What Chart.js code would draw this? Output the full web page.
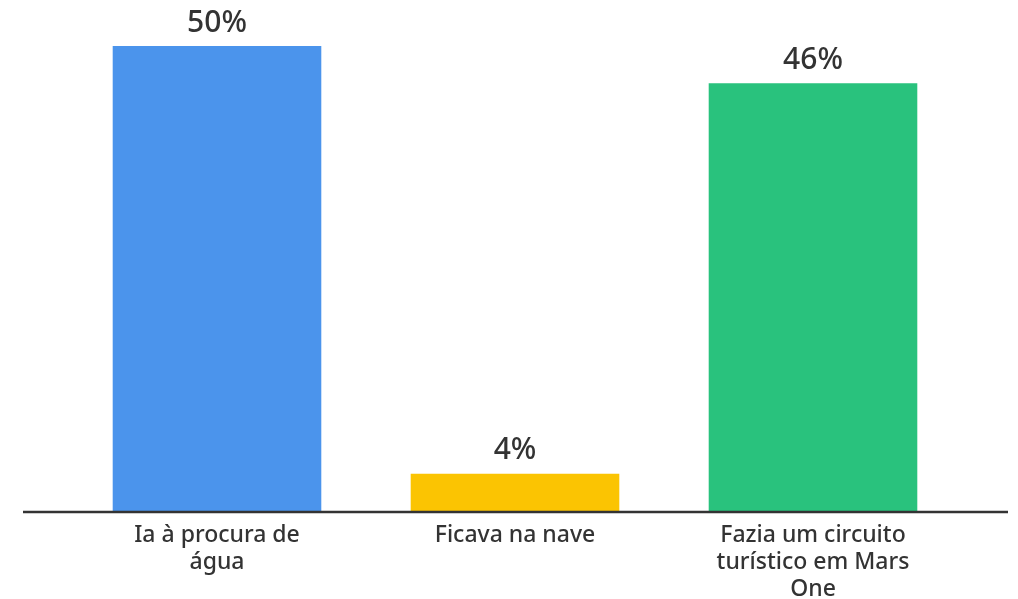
<!DOCTYPE html>
<html>
<head>
<meta charset="utf-8">
<script src="https://cdn.jsdelivr.net/npm/chart.js@4"></script>
<style>
  html, body { margin: 0; padding: 0; background: #fff; }
  #wrap { width: 1018px; height: 599px; position: relative; }
</style>
</head>
<body>
<div id="wrap"><canvas id="chart"></canvas></div>
<script>
const categories = [
    ['Ia à procura de', 'água'],
    ['Ficava na nave'],
    ['Fazia um circuito', 'turístico em Mars', 'One']
];
const percentages = [50, 4, 46];
const barColors = ['#4b94ec', '#fbc402', '#29c27d'];

// Beschriftung über den Balken (z. B. "50%")
const valueLabels = {
    id: 'valueLabels',
    afterDatasetsDraw(chart) {
        const ctx = chart.ctx;
        const meta = chart.getDatasetMeta(0);
        ctx.save();
        ctx.fillStyle = '#333333';
        ctx.font = '500 30px "Noto Sans"';
        ctx.textAlign = 'center';
        ctx.textBaseline = 'middle';
        meta.data.forEach((bar, i) => {
            ctx.fillText(percentages[i] + '%', bar.x, bar.y - 23);
        });
        ctx.restore();
    }
};

// Grundlinie, breiter als die Zeichenfläche
const baseLine = {
    id: 'baseLine',
    afterDatasetsDraw(chart) {
        const ctx = chart.ctx;
        const y = chart.scales.y.getPixelForValue(0) + 1;
        ctx.save();
        ctx.strokeStyle = '#333333';
        ctx.lineWidth = 2.5;
        ctx.beginPath();
        ctx.moveTo(23, y);
        ctx.lineTo(1008, y);
        ctx.stroke();
        ctx.restore();
    }
};

new Chart(document.getElementById('chart'), {
    type: 'bar',
    data: {
        labels: categories,
        datasets: [{
            data: percentages,
            backgroundColor: barColors,
            borderWidth: 0,
            barPercentage: 0.7,
            categoryPercentage: 1.0
        }]
    },
    options: {
        responsive: true,
        maintainAspectRatio: false,
        animation: false,
        layout: {
            padding: { top: 46, left: 68, right: 56, bottom: 0 }
        },
        scales: {
            x: {
                grid: { display: false, drawTicks: false },
                border: { display: false },
                ticks: {
                    color: '#333333',
                    padding: 11,
                    maxRotation: 0,
                    autoSkip: false,
                    font: { family: 'Noto Sans', size: 23, weight: 500, lineHeight: 1.17 }
                },
                afterFit(scale) { scale.height = 88; }
            },
            y: {
                display: false,
                min: 0,
                max: 50
            }
        },
        plugins: {
            legend: { display: false },
            tooltip: { enabled: false }
        }
    },
    plugins: [valueLabels, baseLine]
});
</script>
</body>
</html>
